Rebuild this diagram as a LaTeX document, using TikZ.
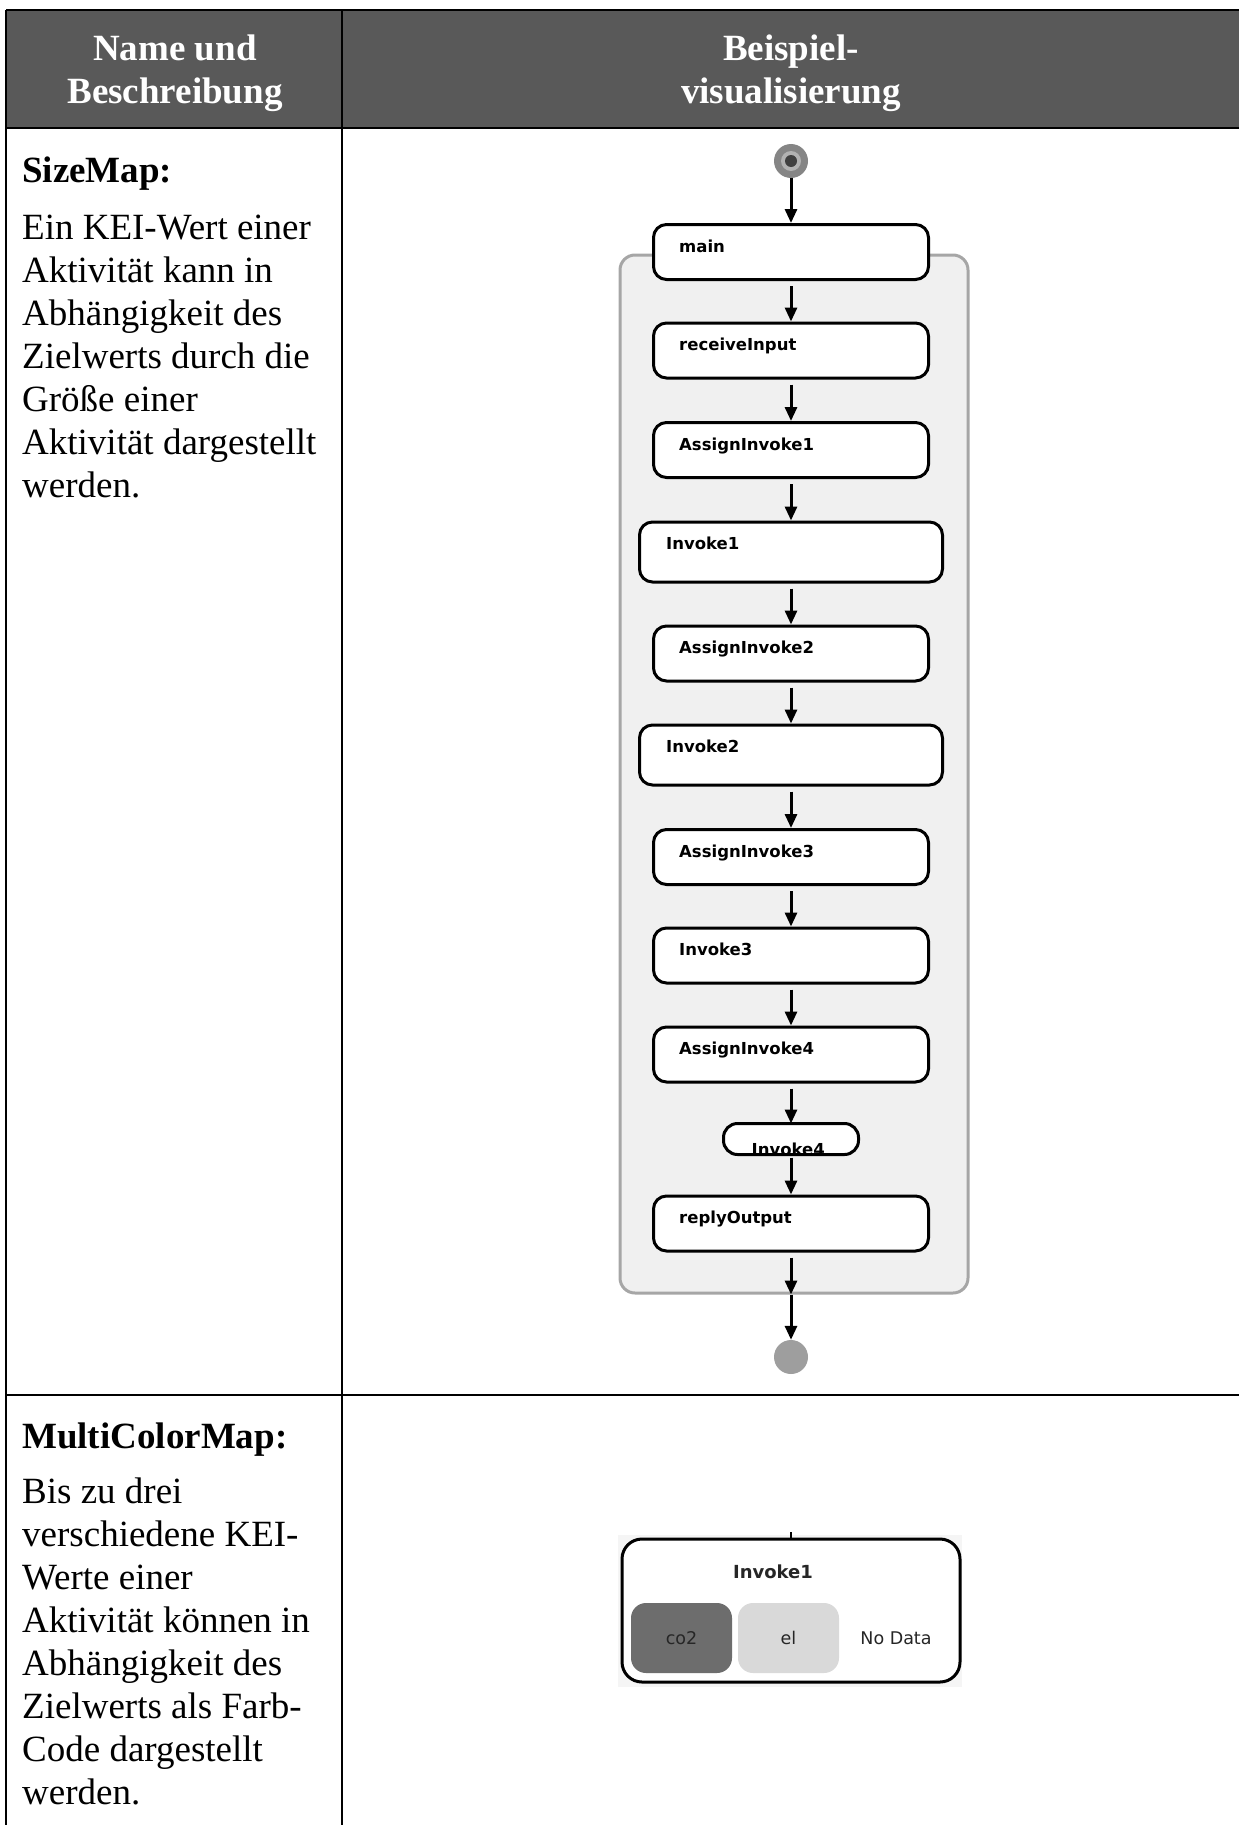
\documentclass[tikz,border=0pt]{standalone}
\usepackage{fontspec}
\setmainfont{Liberation Serif}
\newfontfamily\uifont{DejaVu Sans}
\usetikzlibrary{arrows.meta}
\definecolor{headgray}{HTML}{595959}
\definecolor{seqfill}{HTML}{F0F0F0}
\definecolor{seqline}{HTML}{A6A6A6}
\definecolor{cotwogray}{HTML}{6D6D6D}
\definecolor{elgray}{HTML}{D9D9D9}
\begin{document}
\begin{tikzpicture}[x=1pt,y=-1pt,
    tablerule/.style={line width=2.2pt},
    headtext/.style={text=white, align=center, anchor=base, inner sep=0pt, font=\fontsize{37}{43}\selectfont\bfseries},
    desc/.style={anchor=base west, align=left, inner sep=0pt, font=\fontsize{37}{43}\selectfont},
    act/.style={draw, line width=3pt, rounded corners=13pt, fill=white, minimum width=275pt, minimum height=55pt, inner sep=0pt},
    actwide/.style={act, minimum width=303pt, minimum height=60pt},
    actlabel/.style={anchor=base west, inner sep=0pt, font=\uifont\fontsize{16.5}{19}\selectfont\bfseries},
    flow/.style={line width=3pt, -{Triangle[length=14pt,width=12pt]}},
    kpi/.style={rounded corners=15pt, minimum width=101pt, minimum height=70pt, inner sep=0pt, font=\uifont\fontsize{17.5}{20}\selectfont, text=black!85}]
    \useasboundingbox (0,0) rectangle (1239,1825);
    % header (multi-line nodes sit on their last baseline)
    \fill[headgray] (6,10) rectangle (1239,128);
    \node[headtext] (hname) at (175,104) {Name und\\Beschreibung};
    \node[headtext] (hvis) at (791,104) {Beispiel-\\visualisierung};
    % table rules
    \draw[tablerule] (6,10) -- (1239,10);
    \draw[tablerule] (6,128) -- (1239,128);
    \draw[tablerule] (6,1395) -- (1239,1395);
    \draw[tablerule] (6,10) -- (6,1825);
    \draw[tablerule] (342,10) -- (342,1825);
    % row 1: SizeMap
    \node[desc] (sizetitle) at (22,182) {\bfseries SizeMap:};
    \node[desc] (sizetext) at (22,497) {Ein KEI-Wert einer\\Aktivität kann in\\Abhängigkeit des\\Zielwerts durch die\\Größe einer\\Aktivität dargestellt\\werden.};
    % sequence container
    \node[draw=seqline, fill=seqfill, line width=3pt, rounded corners=15pt, minimum width=348pt, minimum height=1038pt, inner sep=0pt] (seq) at (794,774) {};
    % start and end
    \node[circle, fill=black!48, minimum size=34pt, inner sep=0pt] (start) at (791,161) {};
    \fill[black!30] (start) circle (10pt);
    \fill[black!75] (start) circle (6pt);
    \node[circle, fill=black!38, minimum size=34pt, inner sep=0pt] (stop) at (791,1357) {};
    % activities
    \node[act] (main) at (791,252) {};
    \node[actlabel] at ([xshift=27pt,yshift=-29pt]main.north west) {main};
    \node[act] (recv) at (791,350.5) {};
    \node[actlabel] at ([xshift=27pt,yshift=-29pt]recv.north west) {receiveInput};
    \node[act] (ai1) at (791,450) {};
    \node[actlabel] at ([xshift=27pt,yshift=-29pt]ai1.north west) {AssignInvoke1};
    \node[actwide] (inv1) at (791,552) {};
    \node[actlabel] at ([xshift=28pt,yshift=-29pt]inv1.north west) {Invoke1};
    \node[act] (ai2) at (791,653.5) {};
    \node[actlabel] at ([xshift=27pt,yshift=-29pt]ai2.north west) {AssignInvoke2};
    \node[actwide] (inv2) at (791,755) {};
    \node[actlabel] at ([xshift=28pt,yshift=-29pt]inv2.north west) {Invoke2};
    \node[act] (ai3) at (791,857) {};
    \node[actlabel] at ([xshift=27pt,yshift=-29pt]ai3.north west) {AssignInvoke3};
    \node[act] (inv3) at (791,955.5) {};
    \node[actlabel] at ([xshift=27pt,yshift=-29pt]inv3.north west) {Invoke3};
    \node[act] (ai4) at (791,1054.5) {};
    \node[actlabel] at ([xshift=27pt,yshift=-29pt]ai4.north west) {AssignInvoke4};
    % Invoke4 is too small for its label
    \node[act, draw=none, minimum width=132pt, minimum height=28pt, rounded corners=14pt] (inv4) at (791,1139) {};
    \node[actlabel] (inv4txt) at ([xshift=28pt,yshift=-1pt]inv4.south west) {Invoke4};
    \draw[line width=3pt, rounded corners=14pt] (inv4.south west) rectangle (inv4.north east);
    \node[act] (reply) at (791,1223.5) {};
    \node[actlabel] at ([xshift=27pt,yshift=-29pt]reply.north west) {replyOutput};
    % flow
    \draw[flow] (start.south) -- (main.north);
    \draw[flow] ([yshift=-5pt]main.south) -- (recv.north);
    \draw[flow] ([yshift=-5pt]recv.south) -- (ai1.north);
    \draw[flow] ([yshift=-5pt]ai1.south) -- (inv1.north);
    \draw[flow] ([yshift=-5pt]inv1.south) -- (ai2.north);
    \draw[flow] ([yshift=-5pt]ai2.south) -- (inv2.north);
    \draw[flow] ([yshift=-5pt]inv2.south) -- (ai3.north);
    \draw[flow] ([yshift=-5pt]ai3.south) -- (inv3.north);
    \draw[flow] ([yshift=-5pt]inv3.south) -- (ai4.north);
    \draw[flow] ([yshift=-5pt]ai4.south) -- (inv4.north);
    \draw[flow] ([yshift=-3pt]inv4.south) -- (reply.north);
    \draw[flow] ([yshift=-5pt]reply.south) -- (reply.south |- seq.south);
    \draw[flow] (reply.south |- seq.south) -- (stop.north);
    % row 2: MultiColorMap
    \node[desc] (multititle) at (22,1448) {\bfseries MultiColorMap:};
    \node[desc] (multitext) at (22,1804) {Bis zu drei\\verschiedene KEI-\\Werte einer\\Aktivität können in\\Abhängigkeit des\\Zielwerts als Farb-\\Code dargestellt\\werden.};
    \fill[black!4] (618,1535) rectangle (962,1687);
    \coordinate (stub) at (791,1532);
    \node[draw, fill=white, line width=3pt, rounded corners=20pt, minimum width=338pt, minimum height=143pt, inner sep=0pt] (mc) at (791,1610.5) {};
    \draw[line width=2pt] (stub) -- (mc.north);
    \node[font=\uifont\fontsize{18}{21}\selectfont\bfseries, text=black!85] (mctitle) at (773,1572) {Invoke1};
    \node[kpi, fill=cotwogray] (co2) at (681.5,1638) {co2};
    \node[kpi, fill=elgray] (el) at (788.5,1638) {el};
    \node[font=\uifont\fontsize{17.5}{20}\selectfont, text=black!85] (nodata) at (896,1638) {No Data};
\end{tikzpicture}
\end{document}
